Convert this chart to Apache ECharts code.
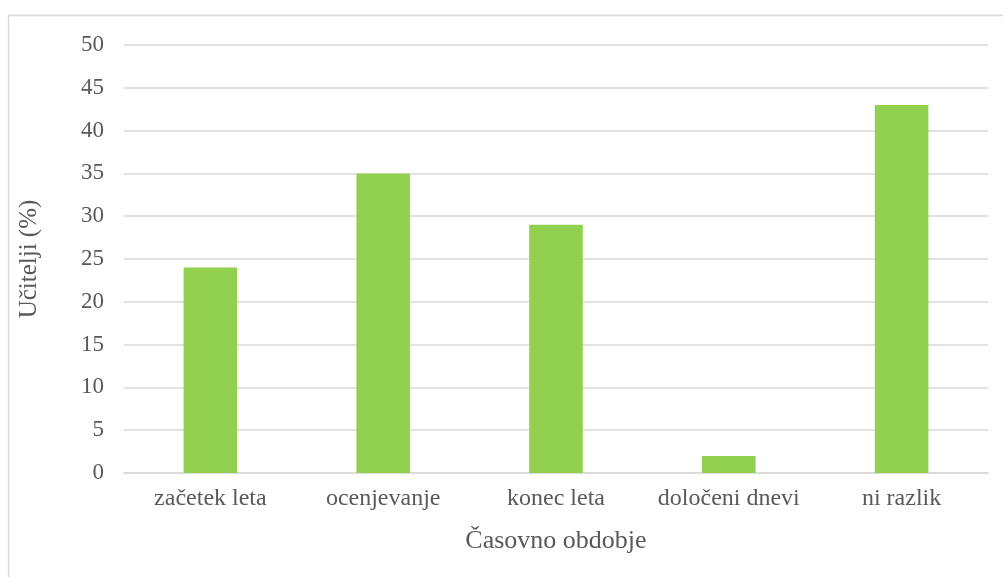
<!DOCTYPE html>
<html>
<head>
<meta charset="utf-8">
<script src="https://cdn.jsdelivr.net/npm/echarts@6/dist/echarts.min.js"></script>
<style>
  html, body { margin: 0; padding: 0; background: #fff; }
  #chart { width: 1003px; height: 577px; }
</style>
</head>
<body>
<div id="chart"></div>
<script>
// obdobja in deleži učiteljev
const categories = ["začetek leta", "ocenjevanje", "konec leta", "določeni dnevi", "ni razlik"];
const values = [24, 35, 29, 2, 43];
const yTicks = [0, 50, 5];

const textColor = "#595959";
const font = "Liberation Serif";

let chart = echarts.init(document.getElementById("chart"));
chart.setOption({
  animation: false,
  graphic: [
    {
      type: "rect",
      shape: { x: 8.5, y: 15.5, width: 1010, height: 600 },
      style: { fill: "none", stroke: "#d9d9d9", lineWidth: 1.5 }
    }
  ],
  grid: { left: 124, right: 15, top: 45, bottom: 104 },
  xAxis: {
    type: "category",
    data: categories,
    name: "Časovno obdobje",
    nameLocation: "middle",
    nameGap: 55,
    nameTextStyle: { fontFamily: font, fontSize: 26, color: textColor },
    axisLine: { show: true, lineStyle: { color: "#d9d9d9", width: 1.5 } },
    axisTick: { show: false },
    axisLabel: { interval: 0, fontFamily: font, fontSize: 24, color: textColor, margin: 14 }
  },
  yAxis: {
    type: "value",
    min: yTicks[0],
    max: yTicks[1],
    interval: yTicks[2],
    name: "Učitelji (%)",
    nameLocation: "middle",
    nameGap: 82,
    nameTextStyle: { fontFamily: font, fontSize: 25, color: textColor },
    axisLine: { show: false },
    axisTick: { show: false },
    axisLabel: { fontFamily: font, fontSize: 23, color: textColor, margin: 20 },
    splitLine: { lineStyle: { color: "#d9d9d9", width: 1.5 } }
  },
  series: [
    {
      type: "bar",
      data: values,
      barWidth: "31%",
      itemStyle: { color: "#92d050" }
    }
  ]
});
</script>
</body>
</html>
